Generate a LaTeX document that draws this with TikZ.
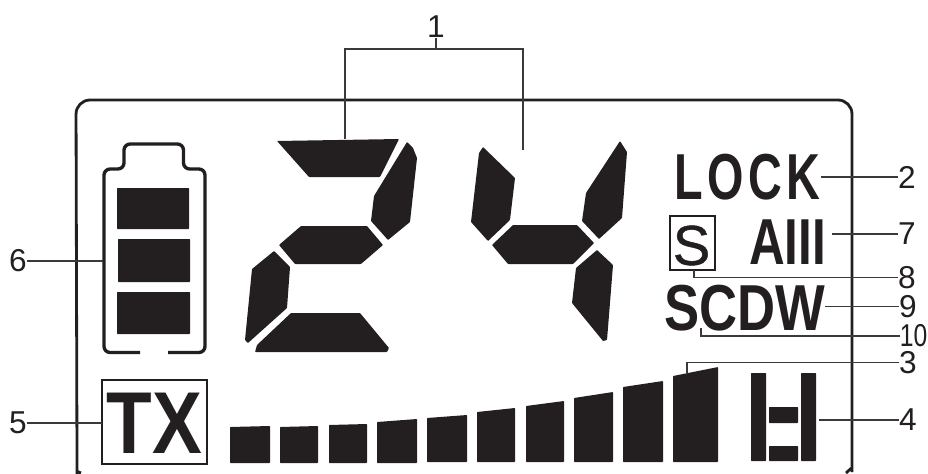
\documentclass[tikz,border=0pt]{standalone}
\usepackage{fontspec}
\setmainfont{Liberation Sans}
\usepackage{xcolor}
\definecolor{ink}{HTML}{231F20}
\definecolor{wire}{HTML}{3A3A3A}
\newcommand{\squeeze}[2]{\scalebox{#1}[1]{#2}}

\begin{document}
\begin{tikzpicture}[
    x=0.02cm, y=-0.02cm,
    panel/.style={draw=ink, line width=1.6pt, rounded corners=8pt},
    seg/.style={fill=ink, draw=none, rounded corners=0.4pt},
    outline/.style={draw=ink, line width=1.9pt, rounded corners=3.5pt},
    wirel/.style={draw=wire, line width=0.6pt},
    numlab/.style={font=\fontsize{18}{20}\selectfont, text=ink, inner sep=0pt, outer sep=0pt},
    lcdbig/.style={font=\fontsize{37}{40}\bfseries\selectfont, text=ink, inner sep=0pt, outer sep=0pt},
    framed/.style={draw=ink, inner sep=0pt, outer sep=0pt},
  ]
    \useasboundingbox (0,0) rectangle (928,473);

    % display outline
    \draw[panel] (81,473) .. controls (79,472) and (77,470) .. (77,462) -- (76,100) -- (852,100)
                 -- (852,458) .. controls (852,465) and (850,470) .. (846,473);

    % first digit
    \fill[seg] (277,141) -- (399,139) -- (380,177) -- (309,177) -- cycle;
    \fill[seg] (407,142) -- (413,148) -- (417,158) -- (410,222) -- (388,240) -- (371,221) -- (374,196) -- cycle;
    \fill[seg] (301,226) -- (367,226) -- (383,245) -- (361,264) -- (295,264) -- (279,245) -- cycle;
    \fill[seg] (274,251) -- (290,267) -- (287,308) -- (248,343) -- (245,340) -- (252,269) -- cycle;
    \fill[seg] (291,313) -- (360,313) -- (389,348) -- (387,352) -- (255,352) -- (257,345) -- cycle;

    % second digit
    \fill[seg] (483,147) -- (515,178) -- (510,220) -- (488,241) -- (471,222) -- (479,153) -- cycle;
    \fill[seg] (620,141) -- (627,152) -- (622,218) -- (599,239) -- (582,221) -- (586,193) -- cycle;
    \fill[seg] (513,225) -- (577,225) -- (594,243) -- (573,264) -- (508,264) -- (492,245) -- cycle;
    \fill[seg] (597,250) -- (613,265) -- (607,340) -- (603,341) -- (572,303) -- (576,268) -- cycle;

    % battery
    \draw[outline] (140,352.5) -- (104,352.5) -- (104,169) -- (124,169) -- (124,144) -- (183.5,144)
                   -- (183.5,169) -- (205,169) -- (205,352.5) -- (168,352.5);
    \fill[seg] (117,188) rectangle (189,229);
    \fill[seg] (118,239) rectangle (190,282);
    \fill[seg] (117,292) rectangle (190,334);

    % signal bars
    \fill[seg] (230,427) -- (270,426) -- (270,463) -- (230,463) -- cycle;
    \fill[seg] (280,427) -- (318,426) -- (318,463) -- (280,463) -- cycle;
    \fill[seg] (329,425) -- (367,424) -- (367,463) -- (329,463) -- cycle;
    \fill[seg] (377,422) -- (417,419) -- (417,463) -- (377,463) -- cycle;
    \fill[seg] (427,418) -- (467,415) -- (467,462) -- (427,462) -- cycle;
    \fill[seg] (477,412) -- (515,408) -- (515,462) -- (477,462) -- cycle;
    \fill[seg] (526,406) -- (564,401) -- (564,462) -- (526,462) -- cycle;
    \fill[seg] (574,398) -- (613,392) -- (613,462) -- (574,462) -- cycle;
    \fill[seg] (623,387) -- (663,381) -- (663,462) -- (623,462) -- cycle;
    \fill[seg] (673,376) -- (718,367) -- (718,462) -- (673,462) -- cycle;

    % power icon
    \fill[seg] (751,373) rectangle (766,461);
    \fill[seg] (801,373) rectangle (816,461);
    \fill[seg] (769,407) rectangle (798,423);
    \fill[seg] (769,446) rectangle (798,461);

    % words on the display
    \node[lcdbig] (lock) at (747.5,177.5) {\squeeze{0.72}{\addfontfeature{LetterSpace=10}LOCK}};
    \node[lcdbig] (amode) at (787.5,242.5) {\squeeze{0.76}{AIII}};
    \node[lcdbig] (scdw) at (745,308) {\squeeze{0.81}{SCDW}};
    \node[framed, line width=1.5pt, minimum width=0.9cm, minimum height=1.08cm] (sbox) at (692.5,243) {};
    \node[font=\fontsize{32}{34}\selectfont, text=ink, inner sep=0pt] (sletter) at (691.5,245.5) {\addfontfeature{FakeBold=0.8}S};
    \node[framed, line width=1.5pt, minimum width=2.1cm, minimum height=1.68cm] (txbox) at (154.5,422) {};
    \node[font=\fontsize{50}{54}\bfseries\selectfont, text=ink, inner sep=0pt] (txword) at (154.5,423.5) {\squeeze{0.85}{TX}};

    % reference numbers
    \node[numlab] (lab1) at (436,27) {1};
    \node[numlab] (lab2) at (907,177) {2};
    \node[numlab] (lab7) at (907,234) {7};
    \node[numlab] (lab8) at (907,277.5) {8};
    \node[numlab] (lab9) at (908,306.5) {9};
    \node[numlab] (lab10) at (913.5,336) {\squeeze{0.78}{10}};
    \node[numlab] (lab3) at (908,362.5) {3};
    \node[numlab] (lab4) at (908,420) {4};
    \node[numlab] (lab5) at (18,423) {5};
    \node[numlab] (lab6) at (18,261) {6};

    % free ends of the leaders
    \coordinate (tenwire) at (701,328);
    \coordinate (barwire) at (687,373);
    \coordinate (digitone) at (345,139);
    \coordinate (digittwo) at (523,150);
    \coordinate (brace) at (436,49);
    \coordinate (powerwire) at (819,420);
    \coordinate (amodewire) at (832,234);
    \coordinate (swire) at (694,270);
    \coordinate (batwire) at (103,261);

    % leaders
    \draw[wirel] (lab1.south) -- (brace);
    \draw[wirel] (digitone) |- (brace) -| (digittwo);
    \draw[wirel] (lab2.west) -- (lab2.west -| lock.east);
    \draw[wirel] (lab7.west) -- (amodewire);
    \draw[wirel] (lab8.west) -| (swire);
    \draw[wirel] (lab9.west) -- (lab9.west -| scdw.east);
    \draw[wirel] (lab10.west) -| (tenwire);
    \draw[wirel] (lab3.west) -| (barwire);
    \draw[wirel] (lab4.west) -- (powerwire);
    \draw[wirel] (lab5.east) -- (lab5.east -| txbox.west);
    \draw[wirel] (lab6.east) -- (batwire);
  \end{tikzpicture}
\end{document}
